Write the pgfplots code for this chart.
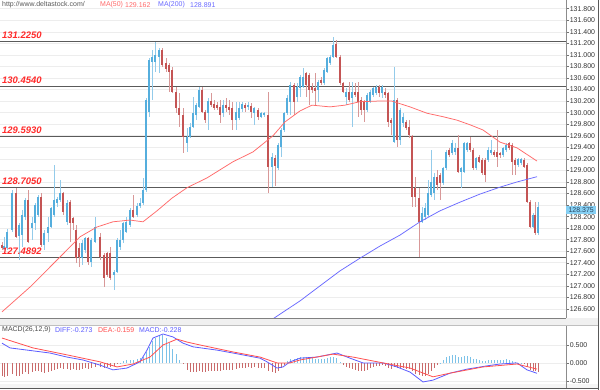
\documentclass[border=0pt]{standalone}
\usepackage{pgfplots}
\pgfplotsset{compat=1.18}
\usepackage{pgfplotstable}
\usepackage{fontspec}
\setmainfont{Liberation Sans}
\definecolor{cup}{HTML}{55AEDD}
\definecolor{cupw}{HTML}{93CBEA}
\definecolor{cdn}{HTML}{C45454}
\definecolor{cdnw}{HTML}{D89898}
\definecolor{ma50}{HTML}{FF6A6A}
\definecolor{ma200}{HTML}{6A6AFF}
\definecolor{lvl}{HTML}{5A5A5A}
\definecolor{lvltxt}{HTML}{FF2A2A}
\definecolor{gridc}{HTML}{EDEDED}
\definecolor{hpos}{HTML}{7CC2E8}
\definecolor{hneg}{HTML}{C96A6A}
\definecolor{diffc}{HTML}{5C5CFF}
\definecolor{deac}{HTML}{FF5050}
\definecolor{tagc}{HTML}{86D0F4}
\definecolor{tagt}{HTML}{2A4660}

\pgfplotstableread{
x l bl bh h d
2 127.62 127.66 127.71 127.76 -1
4 127.62 127.64 127.69 127.85 1
7 127.62 127.66 127.93 127.99 1
12 127.93 127.97 128.61 128.66 1
16 127.83 127.85 128.61 128.70 -1
19 127.45 127.86 128.06 128.09 1
22 127.67 127.88 128.23 128.32 1
25 128.14 128.19 128.49 128.52 1
28 127.74 127.76 128.49 128.66 -1
32 127.80 128.00 128.09 128.19 1
35 127.97 128.09 128.40 128.44 1
38 128.19 128.23 128.54 128.57 1
41 127.67 127.71 128.54 128.61 -1
44 127.62 127.71 127.92 127.97 1
48 127.76 127.92 128.02 128.19 1
51 128.00 128.02 128.35 128.37 1
54 128.19 128.23 128.49 129.09 1
57 128.37 128.44 128.51 128.54 1
60 128.45 128.49 128.61 128.83 1
63 128.23 128.28 128.61 128.63 -1
67 128.06 128.11 128.44 128.49 1
70 127.76 128.09 128.45 128.49 -1
73 127.97 128.09 128.18 128.19 -1
76 127.40 127.48 127.97 128.06 -1
79 127.33 127.50 127.66 127.74 -1
82 127.36 127.48 127.74 127.80 1
85 127.57 127.62 127.83 127.85 1
88 127.36 127.41 127.83 127.85 -1
91 127.33 127.41 127.80 127.83 1
95 127.74 127.76 128.02 128.19 1
100 127.45 127.50 127.85 127.92 -1
104 126.98 127.14 127.54 127.57 -1
107 127.16 127.19 127.57 127.59 -1
110 127.10 127.14 127.57 127.67 -1
114 126.93 127.19 127.24 127.28 1
117 127.22 127.24 127.80 127.83 1
120 127.62 127.67 127.80 127.97 1
123 127.74 127.80 128.09 128.11 1
126 127.92 127.93 128.11 128.19 1
130 128.02 128.06 128.32 128.35 1
133 128.18 128.19 128.32 128.57 -1
137 128.19 128.23 128.38 128.44 1
140 128.35 128.38 128.44 128.52 1
143 128.40 128.44 128.66 128.87 1
146 128.63 128.66 130.22 130.25 1
149 129.93 130.01 130.91 130.95 1
152 130.22 130.88 130.96 131.09 1
155 130.70 130.88 131.00 131.22 1
159 130.69 130.96 131.09 131.12 1
162 130.79 130.83 131.09 131.12 -1
166 130.70 130.76 130.86 130.95 -1
169 130.36 130.70 130.83 130.86 -1
172 130.34 130.36 130.74 130.79 -1
176 129.99 130.08 130.36 130.44 -1
179 129.75 129.96 130.08 130.34 -1
183 129.30 129.58 129.96 130.08 -1
187 129.32 129.48 129.58 129.73 1
190 129.56 129.58 129.75 129.82 1
193 129.73 129.75 129.99 130.27 1
196 129.87 129.96 130.13 130.17 1
199 130.08 130.10 130.39 130.44 1
202 129.99 130.01 130.39 130.44 -1
205 129.82 129.87 130.01 130.05 -1
208 129.70 129.99 130.20 130.25 1
211 130.10 130.13 130.20 130.34 -1
214 130.05 130.08 130.15 130.22 -1
217 130.05 130.08 130.13 130.19 -1
220 129.82 129.96 130.10 130.22 -1
223 129.93 129.99 130.13 130.22 1
226 130.01 130.08 130.13 130.25 -1
229 129.96 130.05 130.10 130.22 -1
232 129.70 129.87 130.08 130.19 -1
236 129.70 129.87 130.01 130.19 1
239 129.87 129.91 130.08 130.19 1
242 130.01 130.06 130.15 130.19 1
245 130.01 130.08 130.13 130.17 -1
248 130.05 130.10 130.13 130.19 1
251 129.91 130.01 130.12 130.17 -1
254 129.79 129.99 130.08 130.10 1
258 129.87 129.93 130.05 130.08 -1
261 129.91 129.93 129.99 130.01 1
264 129.93 129.96 129.99 130.01 1
268 128.61 129.06 129.96 130.36 -1
272 128.71 129.06 129.23 129.30 1
275 128.73 129.08 129.22 129.27 -1
278 129.01 129.04 129.44 129.48 1
281 129.23 129.41 129.70 129.73 1
284 129.67 129.70 129.99 130.01 1
287 129.96 129.99 130.25 130.31 1
290 129.96 130.19 130.48 130.53 1
294 129.96 130.19 130.48 130.51 -1
297 130.19 130.27 130.44 130.51 1
300 130.27 130.43 130.62 130.65 1
303 130.43 130.44 130.62 130.77 1
306 130.27 130.48 130.69 130.70 -1
309 130.13 130.39 130.65 130.69 -1
312 130.34 130.39 130.44 130.51 -1
315 130.13 130.38 130.43 130.69 -1
318 130.19 130.39 130.53 130.57 1
321 130.48 130.51 130.57 130.62 -1
324 130.48 130.51 130.74 130.77 1
327 130.69 130.70 130.95 130.96 1
330 130.83 130.86 130.96 131.00 1
333 130.95 130.96 131.17 131.31 1
336 130.95 130.96 131.19 131.26 -1
340 130.48 130.51 130.96 131.00 -1
343 130.34 130.36 130.51 130.53 -1
346 130.13 130.27 130.36 130.43 1
349 130.19 130.22 130.36 130.53 -1
352 129.75 130.25 130.36 130.53 1
355 130.27 130.31 130.36 130.51 -1
358 129.93 130.19 130.36 130.53 -1
361 129.96 130.05 130.22 130.27 -1
364 129.84 130.05 130.19 130.22 -1
367 130.01 130.05 130.31 130.34 1
370 130.17 130.19 130.36 130.39 1
373 130.27 130.31 130.43 130.44 1
376 130.31 130.34 130.44 130.48 1
379 130.27 130.34 130.44 130.48 -1
382 130.25 130.34 130.44 130.48 1
385 130.25 130.31 130.36 130.43 -1
388 129.75 129.84 130.34 130.36 -1
391 129.61 129.82 129.87 129.91 -1
394 129.48 129.49 130.22 130.79 1
397 129.41 129.53 130.22 130.25 -1
400 129.44 129.53 130.05 130.08 1
403 129.75 129.82 129.93 129.99 1
406 129.70 129.73 129.84 129.87 -1
409 129.56 129.61 129.75 129.87 -1
412 128.37 128.54 129.60 129.61 -1
415 128.37 128.54 128.70 128.89 -1
419 127.50 128.11 128.52 128.70 -1
422 128.09 128.11 128.26 128.37 1
425 128.14 128.19 128.35 128.44 1
428 128.19 128.23 128.61 128.83 1
431 128.54 128.57 128.80 129.35 1
434 128.49 128.61 128.89 128.96 1
437 128.66 128.75 128.89 129.01 -1
440 128.49 128.78 128.92 128.96 -1
443 128.75 128.78 129.04 129.06 1
446 129.01 129.04 129.32 129.35 1
449 129.23 129.27 129.35 129.39 -1
452 129.27 129.30 129.48 129.53 1
455 129.27 129.32 129.39 129.48 1
458 128.96 128.97 129.39 129.61 -1
461 128.70 128.97 129.04 129.06 1
464 128.96 128.97 129.48 129.49 1
467 129.32 129.35 129.48 129.49 1
470 129.32 129.35 129.48 129.58 -1
473 129.01 129.04 129.35 129.39 -1
476 129.01 129.04 129.22 129.23 1
479 129.13 129.15 129.23 129.27 -1
482 128.92 128.96 129.18 129.22 -1
485 128.80 128.92 129.18 129.22 -1
488 129.15 129.18 129.35 129.41 1
491 129.27 129.30 129.35 129.53 1
494 129.23 129.27 129.32 129.35 -1
497 129.06 129.23 129.32 129.70 -1
500 129.22 129.27 129.30 129.32 -1
503 129.23 129.27 129.39 129.41 1
506 129.32 129.35 129.44 129.48 1
509 129.35 129.39 129.48 129.49 -1
512 128.92 129.15 129.44 129.48 -1
515 128.92 129.09 129.18 129.22 -1
518 129.06 129.09 129.20 129.22 1
521 129.09 129.13 129.20 129.22 1
524 129.04 129.06 129.18 129.22 -1
527 128.44 128.45 129.09 129.13 -1
530 128.00 128.02 128.45 128.49 -1
533 128.00 128.02 128.23 128.26 1
535 127.88 127.92 128.23 128.45 -1
538 127.88 127.92 128.375 128.45 1
}\candles

\pgfplotstableread{
x v
2 -0.36
4 -0.38
7 -0.36
12 -0.30
16 -0.34
19 -0.36
22 -0.30
25 -0.25
28 -0.30
32 -0.25
35 -0.22
38 -0.20
41 -0.25
44 -0.27
48 -0.24
51 -0.20
54 -0.17
57 -0.16
60 -0.14
63 -0.16
67 -0.15
70 -0.17
73 -0.15
76 -0.18
79 -0.18
82 -0.16
85 -0.14
88 -0.15
91 -0.13
95 -0.10
100 -0.10
104 -0.12
107 -0.10
110 -0.09
114 -0.07
117 -0.03
120 0.02
123 0.05
126 0.08
130 0.10
133 0.10
137 0.12
140 0.14
143 0.18
146 0.30
149 0.45
152 0.60
155 0.70
159 0.78
162 0.78
166 0.70
169 0.55
172 0.40
176 0.25
179 0.10
183 -0.02
187 -0.18
190 -0.24
193 -0.25
196 -0.25
199 -0.22
202 -0.24
205 -0.25
208 -0.22
211 -0.22
214 -0.20
217 -0.20
220 -0.21
223 -0.18
226 -0.18
229 -0.17
232 -0.18
236 -0.16
239 -0.14
242 -0.12
245 -0.12
248 -0.11
251 -0.12
254 -0.11
258 -0.12
261 -0.12
264 -0.12
268 -0.22
272 -0.25
275 -0.26
278 -0.20
281 -0.12
284 -0.04
287 0.05
290 0.12
294 0.13
297 0.14
300 0.16
303 0.18
306 0.17
309 0.15
312 0.14
315 0.12
318 0.12
321 0.11
324 0.12
327 0.15
330 0.16
333 0.18
336 0.14
340 0.04
343 -0.05
346 -0.10
349 -0.13
352 -0.16
355 -0.18
358 -0.20
361 -0.22
364 -0.22
367 -0.18
370 -0.14
373 -0.10
376 -0.08
379 -0.07
382 -0.06
385 -0.07
388 -0.12
391 -0.15
394 -0.10
397 -0.14
400 -0.12
403 -0.14
406 -0.16
409 -0.15
412 -0.22
415 -0.28
419 -0.32
422 -0.34
425 -0.34
428 -0.30
431 -0.22
434 -0.12
437 -0.05
440 0.02
443 0.10
446 0.18
449 0.20
452 0.24
455 0.24
458 0.18
461 0.16
464 0.20
467 0.20
470 0.18
473 0.12
476 0.12
479 0.10
482 0.07
485 0.06
488 0.10
491 0.10
494 0.09
497 0.08
500 0.08
503 0.10
506 0.11
509 0.10
512 0.06
515 0.03
518 0.02
521 0.01
524 -0.02
527 -0.10
530 -0.18
533 -0.20
535 -0.22
538 -0.23
}\hist

\pgfplotsset{panel/.style={
  width=566bp, scale only axis, xmin=0, xmax=566,
  axis line style={draw=none}, xtick=\empty,
  ytick pos=right, yticklabel pos=right, tick align=outside,
  major tick length=3bp, tick style={draw=black!55, line width=0.5pt},
  ymajorgrids, grid style={draw=gridc, line width=0.6pt},
  yticklabel style={font=\fontsize{7}{8}\selectfont, text=black!80, inner sep=0.6bp},
  yticklabel={\pgfmathprintnumber[fixed,fixed zerofill,precision=3,assume math mode=true]{\tick}},
  clip mode=individual,
},
candle/.style={draw=none, mark=none, forget plot,
  error bars/y dir=both, error bars/y explicit, error bars/error mark=none,
  error bars/error bar style={draw=#1, line width=2.4bp}},
wick/.style={draw=none, mark=none, forget plot,
  error bars/y dir=both, error bars/y explicit, error bars/error mark=none,
  error bars/error bar style={draw=#1, line width=0.8bp}}
}

\begin{document}
\begin{tikzpicture}[x=1bp,y=1bp]
\useasboundingbox (0bp,0bp) rectangle (600bp,390bp);
\fill[white] (0bp,0bp) rectangle (600bp,390bp);
\fill[black!6] (0bp,65bp) rectangle (598bp,72bp);
\fill[black!4] (0bp,1.5bp) rectangle (598bp,6bp);

\begin{axis}[panel, at={(0bp,72bp)}, anchor=south west, height=318bp,
  ymin=126.444, ymax=131.951, ytick={126.6,126.8,...,131.8}]
% support / resistance levels
\addplot[lvl, line width=1.1bp] coordinates {(0,131.225) (566,131.225)};
\addplot[lvl, line width=1.1bp] coordinates {(0,130.454) (566,130.454)};
\addplot[lvl, line width=1.1bp] coordinates {(0,129.593) (566,129.593)};
\addplot[lvl, line width=1.1bp] coordinates {(0,128.705) (566,128.705)};
\addplot[lvl, line width=1.1bp] coordinates {(0,127.4892) (566,127.4892)};
% wicks
\addplot[restrict expr to domain={\thisrow{d}}{0:2}, wick=cupw]
  table[x=x, y expr=(\thisrow{h}+\thisrow{l})/2, y error expr=(\thisrow{h}-\thisrow{l})/2]{\candles};
\addplot[restrict expr to domain={\thisrow{d}}{-2:0}, wick=cdnw]
  table[x=x, y expr=(\thisrow{h}+\thisrow{l})/2, y error expr=(\thisrow{h}-\thisrow{l})/2]{\candles};
% bodies
\addplot[restrict expr to domain={\thisrow{d}}{0:2}, candle=cup]
  table[x=x, y expr=(\thisrow{bh}+\thisrow{bl})/2, y error expr=(\thisrow{bh}-\thisrow{bl})/2]{\candles};
\addplot[restrict expr to domain={\thisrow{d}}{-2:0}, candle=cdn]
  table[x=x, y expr=(\thisrow{bh}+\thisrow{bl})/2, y error expr=(\thisrow{bh}-\thisrow{bl})/2]{\candles};
% MA(50)
\addplot[ma50, line width=0.75bp] coordinates {
(2,126.55) (30,126.98) (60,127.50) (80,127.85) (97,128.02) (113,128.11) (130,128.14)
(143,128.11) (157,128.30) (172,128.52) (187,128.70) (207,128.87) (233,129.15)
(253,129.32) (273,129.60) (285,129.84) (300,130.03) (312,130.13) (330,130.10)
(345,130.13) (360,130.19) (377,130.20) (392,130.20) (410,130.10) (427,129.99)
(443,129.93) (457,129.87) (470,129.79) (483,129.70) (500,129.49) (517,129.39) (537,129.162)};
% MA(200)
\addplot[ma200, line width=0.75bp] coordinates {
(273,126.43) (300,126.74) (320,127.00) (340,127.26) (360,127.48) (380,127.69)
(400,127.88) (420,128.11) (440,128.30) (460,128.45) (480,128.59) (500,128.71)
(517,128.80) (537,128.891)};
% level labels
\foreach \v/\t in {131.225/131.2250,130.454/130.4540,129.593/129.5930,128.705/128.7050,127.4892/127.4892}{
  \edef\temp{\noexpand\node[anchor=base west, text=lvltxt, inner sep=0pt,
    font=\noexpand\fontsize{9.5}{10}\noexpand\selectfont\noexpand\bfseries\noexpand\itshape]
    at (axis cs:2,\v) [yshift=3bp] {\t};}
  \temp
}
\coordinate (lastprice) at (axis cs:566,128.375);
\end{axis}

\begin{axis}[panel, at={(0bp,6bp)}, anchor=south west, height=59bp,
  ymin=-0.566, ymax=1.046, ytick={-0.5,0,0.5}]
\addplot[ycomb, draw=hpos, line width=0.8bp, restrict y to domain=0:5] table[x=x, y=v]{\hist};
\addplot[ycomb, draw=hneg, line width=0.8bp, restrict y to domain=-5:0] table[x=x, y=v]{\hist};
\addplot[diffc, line width=0.8bp] coordinates {
(2,0.55) (10,0.42) (33,0.34) (50,0.28) (67,0.17) (83,0.09) (100,-0.05) (113,-0.18)
(127,-0.13) (140,0.04) (147,0.36) (153,0.69) (163,0.80) (173,0.72) (183,0.55)
(193,0.45) (217,0.36) (233,0.28) (260,0.14) (267,0.04) (277,-0.13) (283,-0.10)
(290,0.04) (300,0.14) (317,0.17) (337,0.28) (350,0.14) (363,0.01) (383,0.01)
(397,-0.10) (410,-0.24) (423,-0.51) (433,-0.46) (450,-0.27) (467,-0.16) (487,-0.07)
(500,-0.02) (517,0.01) (527,-0.18) (537,-0.273)};
\addplot[deac, line width=0.8bp] coordinates {
(2,0.69) (33,0.42) (67,0.23) (100,0.04) (117,-0.10) (133,-0.02) (150,0.17)
(163,0.50) (177,0.66) (187,0.58) (200,0.50) (233,0.31) (260,0.17) (277,0.01)
(290,0.01) (300,0.09) (333,0.25) (353,0.17) (383,0.01) (410,-0.13) (433,-0.37)
(450,-0.27) (483,-0.10) (517,-0.02) (537,-0.159)};
\end{axis}

% frame lines
\draw[black!45, line width=0.6bp] (566bp,72bp) -- (566bp,390bp);
\draw[black!45, line width=0.6bp] (566bp,1.5bp) -- (566bp,65bp);
\draw[black!50, line width=1.6bp] (0bp,71.5bp) -- (566bp,71.5bp);
\draw[black!25, line width=0.5bp] (0bp,65bp) -- (598bp,65bp);
\draw[black!65, line width=1bp] (0bp,1.5bp) -- (598.5bp,1.5bp);
\draw[black!65, line width=1bp] (598.5bp,0bp) -- (598.5bp,390bp);

% last price tag (drawn over the tick labels, as in the reference)
\node[anchor=west, fill=tagc, text=tagt, inner xsep=1.5bp, inner ysep=1.2bp,
  minimum width=30bp, font=\fontsize{7}{8}\selectfont] at (lastprice) [yshift=-3.5bp] {128.375};

% header texts
\node[anchor=west, inner sep=0pt, text=black!65, font=\fontsize{7}{8}\selectfont] at (2bp,385bp) {http://www.deltastock.com/};
\node[anchor=west, inner sep=0pt, text=ma50, font=\fontsize{7}{8}\selectfont] at (100bp,385bp) {MA(50)};
\node[anchor=west, inner sep=0pt, text=ma50, font=\fontsize{7}{8}\selectfont] at (125bp,385bp) {129.162};
\node[anchor=west, inner sep=0pt, text=ma200, font=\fontsize{7}{8}\selectfont] at (158bp,385bp) {MA(200)};
\node[anchor=west, inner sep=0pt, text=ma200, font=\fontsize{7}{8}\selectfont] at (190bp,385bp) {128.891};
% MACD header
\node[anchor=west, inner sep=0pt, text=black!70, font=\fontsize{7}{8}\selectfont] at (2bp,60bp) {MACD(26,12,9)};
\node[anchor=west, inner sep=0pt, text=diffc, font=\fontsize{7}{8}\selectfont] at (55bp,60bp) {DIFF:-0.273};
\node[anchor=west, inner sep=0pt, text=deac, font=\fontsize{7}{8}\selectfont] at (98bp,60bp) {DEA:-0.159};
\node[anchor=west, inner sep=0pt, text=diffc, font=\fontsize{7}{8}\selectfont] at (139bp,60bp) {MACD:-0.228};
\end{tikzpicture}
\end{document}
